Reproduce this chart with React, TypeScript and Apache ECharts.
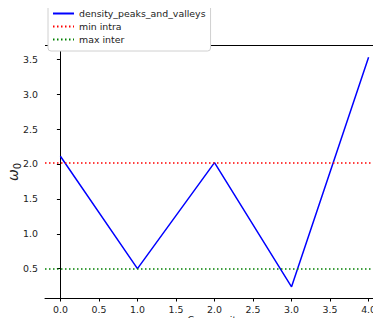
import React, { useEffect, useRef } from "react";
import * as echarts from "echarts";

const communities = [0, 1, 2, 3, 4];
const omegaValues = [2.11, 0.5, 2.02, 0.24, 3.53];
const minIntra = 2.02;
const maxInter = 0.5;
const xTicks = [0, 0.5, 1, 1.5, 2, 2.5, 3, 3.5, 4];
const yTicks = [0.5, 1, 1.5, 2, 2.5, 3, 3.5];

export default function App() {
  const ref = useRef<HTMLDivElement>(null);
  useEffect(() => {
    if (!ref.current) return;
    const chart = echarts.init(ref.current, null, { renderer: "svg" });
    const font = "DejaVu Sans";
    const fs = 9.4;
    chart.setOption({
      animation: false,
      textStyle: { fontFamily: font },
      grid: {
        left: 45,
        top: 46,
        width: 339,
        bottom: 28,
        containLabel: false,
        outerBoundsMode: "none",
      },
      legend: {
        orient: "vertical",
        left: 48,
        top: -4,
        padding: [13, 5, 7, 4],
        itemGap: 4,
        itemWidth: 21,
        itemHeight: 10,
        borderColor: "#d0d0d0",
        borderWidth: 1,
        borderRadius: 3,
        backgroundColor: "#fff",
        itemStyle: { opacity: 0 },
        textStyle: { fontFamily: font, fontSize: fs, color: "#222" },
        data: ["density_peaks_and_valleys", "min intra", "max inter"],
        z: 10,
      },
      xAxis: {
        type: "value",
        min: -0.2,
        max: 4.2,
        name: "Community",
        nameLocation: "middle",
        nameGap: 16,
        nameMoveOverlap: false,
        nameTextStyle: { fontFamily: font, fontSize: fs, color: "#222", lineHeight: 10 },
        axisLine: { show: true, lineStyle: { color: "#000", width: 1 } },
        axisTick: { show: true, customValues: xTicks, length: 3.5, lineStyle: { color: "#000" } },
        axisLabel: {
          customValues: xTicks,
          formatter: (v: number) => v.toFixed(1),
          fontFamily: font,
          fontSize: fs,
          lineHeight: 10,
          color: "#222",
          margin: 6,
        },
        splitLine: { show: false },
      },
      yAxis: {
        type: "value",
        min: 0.08,
        max: 3.69,
        name: "{w|ω}{s|0}",
        nameLocation: "middle",
        nameGap: 23,
        nameRotate: 90,
        nameMoveOverlap: false,
        nameTextStyle: {
          fontFamily: font,
          fontSize: 14,
          color: "#222",
          rich: {
            w: { fontFamily: font, fontSize: 14, fontStyle: "italic", color: "#222" },
            s: { fontFamily: font, fontSize: 10, color: "#222", padding: [8, 0, 0, 0] },
          },
        },
        axisLine: { show: true, lineStyle: { color: "#000", width: 1 } },
        axisTick: { show: true, customValues: yTicks, length: 3.5, lineStyle: { color: "#000" } },
        axisLabel: {
          customValues: yTicks,
          formatter: (v: number) => v.toFixed(1),
          fontFamily: font,
          fontSize: fs,
          color: "#222",
          margin: 7,
        },
        splitLine: { show: false },
      },
      graphic: [
        {
          type: "line",
          shape: { x1: 45, y1: 45.5, x2: 384, y2: 45.5 },
          style: { stroke: "#000", lineWidth: 1 },
          z: 1,
        },
      ],
      series: [
        {
          name: "density_peaks_and_valleys",
          type: "line",
          data: communities.map((c, i) => [c, omegaValues[i]]),
          symbol: "none",
          lineStyle: { color: "#0000ff", width: 1.5 },
          itemStyle: { color: "#0000ff" },
        },
        {
          name: "min intra",
          type: "line",
          data: [],
          symbol: "none",
          lineStyle: { color: "#ff0000", width: 1.5, type: [1.5, 2.5] },
          itemStyle: { color: "#ff0000" },
          markLine: {
            silent: true,
            symbol: "none",
            label: { show: false },
            lineStyle: { color: "#ff0000", width: 1.5, type: [1.5, 2.5] },
            data: [{ yAxis: minIntra }],
          },
        },
        {
          name: "max inter",
          type: "line",
          data: [],
          symbol: "none",
          lineStyle: { color: "#008000", width: 1.5, type: [1.5, 2.5] },
          itemStyle: { color: "#008000" },
          markLine: {
            silent: true,
            symbol: "none",
            label: { show: false },
            lineStyle: { color: "#008000", width: 1.5, type: [1.5, 2.5] },
            data: [{ yAxis: maxInter }],
          },
        },
      ],
    });
    return () => chart.dispose();
  }, []);
  return <div ref={ref} style={{ width: 381, height: 326, margin: -8 }} />;
}
